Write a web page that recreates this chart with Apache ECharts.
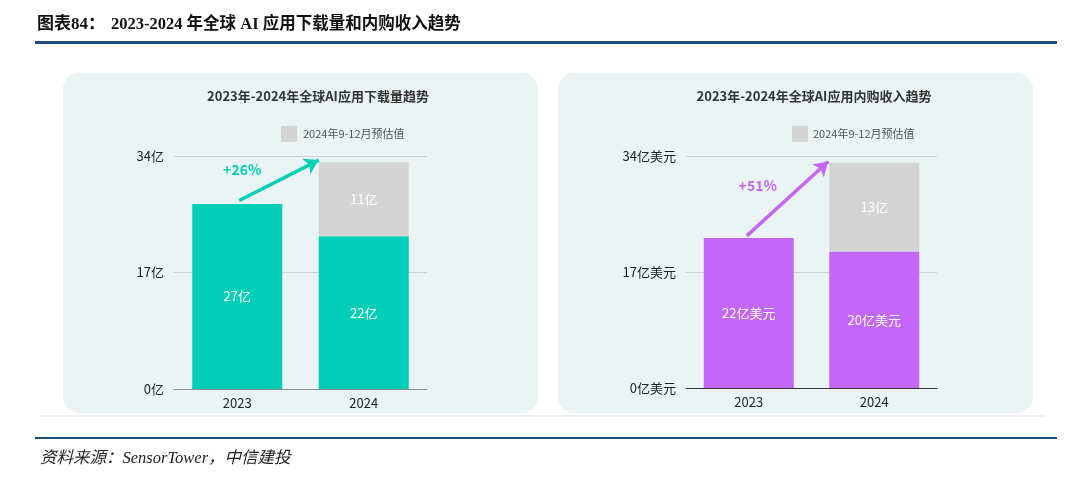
<!DOCTYPE html>
<html><head><meta charset="utf-8">
<script src="https://cdn.jsdelivr.net/npm/echarts@6/dist/echarts.min.js"></script>
<style>html,body{margin:0;padding:0;background:#fff}#c{width:1080px;height:477px}</style>
</head><body><div id="c"></div>
<script>
const categories = ['2023', '2024'];
const yTicks = [0, 17, 34];
const dlActual = [27, 22.3];
const dlEstimate = ['-', 10.8];
const revActual = [22, 20];
const revEstimate = ['-', 13];
const dlGrowth = '+26%';
const revGrowth = '+51%';
const legendName = '2024年9-12月预估值';

const TEAL = '#03cfb8', PURPLE = '#c466f8', GREY = '#d4d4d4';
const cjk = '"Noto Sans CJK SC","Noto Sans",sans-serif';
const serif = '"Liberation Serif","DejaVu Serif","Noto Sans CJK SC",serif';

const chart = echarts.init(document.getElementById('c'), null, {renderer: 'canvas'});

function yAxis(grid, unit) {
  return {
    type: 'value', gridIndex: grid, min: yTicks[0], max: yTicks[2], interval: yTicks[1] - yTicks[0],
    axisLabel: {formatter: v => v + unit, color: '#222', fontSize: 13, fontFamily: cjk, margin: 10},
    axisLine: {show: false}, axisTick: {show: false},
    splitLine: {lineStyle: {color: '#c9d2d2', width: 1}}
  };
}
function xAxis(grid, lineColor) {
  return {
    type: 'category', gridIndex: grid, data: categories,
    axisLine: {lineStyle: {color: lineColor, width: 1}}, axisTick: {show: false},
    axisLabel: {color: '#222', fontSize: 13, fontFamily: cjk, margin: 8}
  };
}
function inLabel(unit) {
  return {show: true, position: 'inside', color: '#fff', fontSize: 13, fontFamily: cjk,
    formatter: p => Math.round(p.value) + unit};
}

const option = {
  animation: false,
  backgroundColor: '#fff',
  graphic: [
    {type: 'text', left: 37, top: 16, style: {text: '图表84：', font: 'bold 17px ' + serif, fill: '#111'}},
    {type: 'text', left: 111, top: 16, style: {text: '2023-2024 年全球 AI 应用下载量和内购收入趋势', font: 'bold 16.5px ' + serif, fill: '#111'}},
    {type: 'rect', shape: {x: 35, y: 41, width: 1022, height: 3}, style: {fill: '#1c4f80'}},
    {type: 'rect', z: -10, shape: {x: 63, y: 73, width: 475, height: 340, r: 16}, style: {fill: '#eaf4f4'}},
    {type: 'rect', z: -10, shape: {x: 558, y: 73, width: 475, height: 340, r: 16}, style: {fill: '#eaf4f4'}},
    {type: 'rect', z: -11, shape: {x: 40, y: 415, width: 1005, height: 2}, style: {fill: '#eef0f0'}},
    {type: 'rect', shape: {x: 35, y: 437, width: 1022, height: 2}, style: {fill: '#1c4f80'}},
    {type: 'text', left: 40, top: 450, style: {text: '资料来源：SensorTower，中信建投', font: 'italic 16.5px ' + serif, fill: '#222'}}
  ],
  title: [
    {text: '2023年-2024年全球AI应用下载量趋势', left: 313, top: 85, textAlign: 'center',
      textStyle: {fontSize: 13, fontWeight: 'bold', color: '#333', fontFamily: cjk}},
    {text: '2023年-2024年全球AI应用内购收入趋势', left: 809, top: 85, textAlign: 'center',
      textStyle: {fontSize: 13, fontWeight: 'bold', color: '#333', fontFamily: cjk}}
  ],
  legend: [
    {left: 281, top: 126, padding: 0, itemWidth: 16, itemHeight: 16, itemGap: 6, icon: 'rect', data: [legendName],
      textStyle: {color: '#555', fontSize: 11, fontFamily: cjk, padding: [0, 0, 0, 1]}, selectedMode: false},
    {left: 792, top: 126, padding: 0, itemWidth: 16, itemHeight: 16, itemGap: 6, icon: 'rect', data: [legendName],
      textStyle: {color: '#555', fontSize: 11, fontFamily: cjk, padding: [0, 0, 0, 0]}, selectedMode: false}
  ],
  grid: [
    {left: 174, top: 156, width: 253, height: 233},
    {left: 686, top: 156, width: 251, height: 232}
  ],
  xAxis: [xAxis(0, '#8a8f8f'), xAxis(1, '#333')],
  yAxis: [yAxis(0, '亿'), yAxis(1, '亿美元')],
  series: [
    {type: 'bar', name: 'dl', xAxisIndex: 0, yAxisIndex: 0, stack: 'a', data: dlActual, barWidth: 90,
      itemStyle: {color: TEAL}, label: inLabel('亿')},
    {type: 'bar', name: legendName, xAxisIndex: 0, yAxisIndex: 0, stack: 'a', data: dlEstimate, barWidth: 90,
      itemStyle: {color: GREY}, label: inLabel('亿')},
    {type: 'bar', name: 'rev', xAxisIndex: 1, yAxisIndex: 1, stack: 'b', data: revActual, barWidth: 90,
      itemStyle: {color: PURPLE}, label: inLabel('亿美元')},
    {type: 'bar', name: legendName, xAxisIndex: 1, yAxisIndex: 1, stack: 'b', data: revEstimate, barWidth: 90,
      itemStyle: {color: GREY}, label: inLabel('亿')}
  ]
};
chart.setOption(option);

// arrows & growth labels positioned through the axes
function px(g, c, v) { return chart.convertToPixel({gridIndex: g}, [c, v]); }
const half = 45;
const a1s = px(0, categories[0], dlActual[0] + 0.5), a1e = px(0, categories[1], dlActual[1] + dlEstimate[1] + 0.3);
const a2s = px(1, categories[0], revActual[0] + 0.3), a2e = px(1, categories[1], revActual[1] + revEstimate[1] + 0.2);
const t1 = px(0, categories[0], 32), t2 = px(1, categories[0], 29.6);
chart.setOption({
  series: [
    {}, {}, {}, {},
    {type: 'line', xAxisIndex: 0, yAxisIndex: 0, data: [], silent: true,
      markLine: {silent: true, symbol: ['none', 'arrow'], symbolSize: [13, 14], label: {show: false},
        lineStyle: {color: TEAL, width: 3.5, type: 'solid'},
        data: [[{x: a1s[0] + 2, y: a1s[1]}, {x: a1e[0] - half, y: a1e[1]}]]}},
    {type: 'line', xAxisIndex: 1, yAxisIndex: 1, data: [], silent: true,
      markLine: {silent: true, symbol: ['none', 'arrow'], symbolSize: [13, 14], label: {show: false},
        lineStyle: {color: PURPLE, width: 3.5, type: 'solid'},
        data: [[{x: a2s[0] - 2, y: a2s[1]}, {x: a2e[0] - half - 1, y: a2e[1]}]]}}
  ],
  graphic: option.graphic.concat([
    {type: 'text', x: t1[0] + 5, y: t1[1], style: {text: dlGrowth, font: 'bold 14px ' + cjk, fill: TEAL, align: 'center', verticalAlign: 'middle'}},
    {type: 'text', x: t2[0] + 9, y: t2[1], style: {text: revGrowth, font: 'bold 14px ' + cjk, fill: PURPLE, align: 'center', verticalAlign: 'middle'}}
  ])
});
</script></body></html>
